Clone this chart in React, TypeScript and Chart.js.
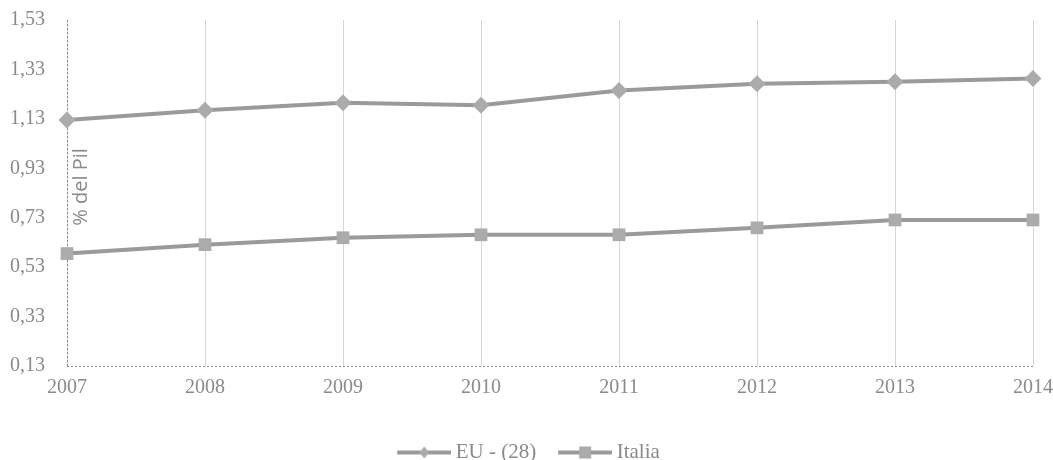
import React, { useEffect, useRef } from "react";
import { Chart, registerables } from "chart.js";

Chart.register(...registerables);

const years = ["2007", "2008", "2009", "2010", "2011", "2012", "2013", "2014"];
const euValues = [1.125, 1.165, 1.195, 1.185, 1.245, 1.272, 1.28, 1.293];
const italiaValues = [0.585, 0.621, 0.649, 0.661, 0.661, 0.689, 0.721, 0.721];
const yTicks = [0.13, 0.33, 0.53, 0.73, 0.93, 1.13, 1.33, 1.53];
const seriesNames = ["EU - (28)", "Italia"];
const yTitle = "% del Pil";

const LINE = "#9a9a9a";
const MARK = "#ababab";
const TEXT = "#8a8a8a";
const SERIF = "'Liberation Serif', 'Times New Roman', serif";

const CW = 1063;
const CH = 474;

function legendImage(kind: "diamond" | "square"): HTMLCanvasElement {
  const c = document.createElement("canvas");
  c.width = 72;
  c.height = 14;
  const ctx = c.getContext("2d")!;
  ctx.strokeStyle = LINE;
  ctx.lineWidth = 4;
  ctx.beginPath();
  ctx.moveTo(18, 7);
  ctx.lineTo(72, 7);
  ctx.stroke();
  ctx.fillStyle = MARK;
  if (kind === "diamond") {
    ctx.beginPath();
    ctx.moveTo(45, 1);
    ctx.lineTo(50, 7);
    ctx.lineTo(45, 13);
    ctx.lineTo(40, 7);
    ctx.closePath();
    ctx.fill();
  } else {
    ctx.fillRect(39, 1, 12, 12);
  }
  return c;
}

const decorPlugin = {
  id: "decor",
  beforeDatasetsDraw(chart: any) {
    const { ctx, chartArea } = chart;
    ctx.save();
    ctx.strokeStyle = "#8a8a8a";
    ctx.lineWidth = 1;
    ctx.setLineDash([2, 2]);
    ctx.beginPath();
    ctx.moveTo(chartArea.left + 0.5, chartArea.top);
    ctx.lineTo(chartArea.left + 0.5, chartArea.bottom);
    ctx.moveTo(chartArea.left, chartArea.bottom + 0.5);
    ctx.lineTo(chartArea.right, chartArea.bottom + 0.5);
    ctx.stroke();
    ctx.restore();
  },
  afterDraw(chart: any) {
    const { ctx, chartArea } = chart;
    ctx.save();
    ctx.translate(chartArea.left + 14, chartArea.top + 167);
    ctx.rotate(-Math.PI / 2);
    ctx.font = "20px 'Open Sans', sans-serif";
    ctx.fillStyle = TEXT;
    ctx.textAlign = "center";
    ctx.textBaseline = "middle";
    ctx.fillText(yTitle, 0, 0);
    ctx.restore();
  },
};

export default function App() {
  const ref = useRef<HTMLCanvasElement>(null);
  useEffect(() => {
    const imgs = [legendImage("diamond"), legendImage("square")];
    const chart = new Chart(ref.current!, {
      type: "line",
      data: {
        labels: years,
        datasets: [
          {
            label: seriesNames[0],
            data: euValues,
            borderColor: LINE,
            backgroundColor: MARK,
            borderWidth: 4,
            pointStyle: "rectRot",
            pointRadius: 8.5,
            pointBorderWidth: 0,
            pointBackgroundColor: MARK,
          },
          {
            label: seriesNames[1],
            data: italiaValues,
            borderColor: LINE,
            backgroundColor: MARK,
            borderWidth: 4,
            pointStyle: "rect",
            pointRadius: 9,
            pointBorderWidth: 0,
            pointBackgroundColor: MARK,
          },
        ],
      },
      options: {
        animation: false,
        responsive: false,
        maintainAspectRatio: false,
        layout: { padding: { top: -7, right: 22, left: 4, bottom: -13 } },
        plugins: {
          tooltip: { enabled: false },
          legend: {
            position: "bottom",
            labels: {
              usePointStyle: true,
              pointStyleWidth: 60,
              color: TEXT,
              font: { family: SERIF, size: 21 },
              padding: 10,
              generateLabels: (ch: any) =>
                ch.data.datasets.map((d: any, i: number) => ({
                  text: d.label,
                  pointStyle: imgs[i],
                  fillStyle: MARK,
                  strokeStyle: LINE,
                  lineWidth: 0,
                  hidden: false,
                  datasetIndex: i,
                  fontColor: TEXT,
                })),
            },
          },
        },
        scales: {
          x: {
            offset: false,
            grid: { display: true, color: "#d6d6d6", lineWidth: 1, drawTicks: false },
            border: { display: false },
            afterFit: (scale: any) => {
              scale.height = 66;
            },
            ticks: {
              color: TEXT,
              padding: 10,
              font: { family: SERIF, size: 20 },
            },
          },
          y: {
            min: 0.13,
            max: 1.53,
            afterBuildTicks: (scale: any) => {
              scale.ticks = yTicks.map((v) => ({ value: v }));
            },
            afterFit: (scale: any) => {
              scale.width = 63;
            },
            grid: { display: false, drawTicks: false },
            border: { display: false },
            ticks: {
              color: TEXT,
              padding: 22,
              font: { family: SERIF, size: 20 },
              callback: (v: any) => Number(v).toFixed(2).replace(".", ","),
            },
          },
        },
      },
      plugins: [decorPlugin],
    } as any);
    return () => chart.destroy();
  }, []);
  return (
    <div style={{ position: "fixed", left: 0, top: 0, width: 1053, height: 460, background: "#fff", overflow: "hidden" }}>
      <canvas
        ref={ref}
        width={CW}
        height={CH}
        style={{ position: "absolute", left: 0, top: -14, width: CW, height: CH }}
      />
    </div>
  );
}
